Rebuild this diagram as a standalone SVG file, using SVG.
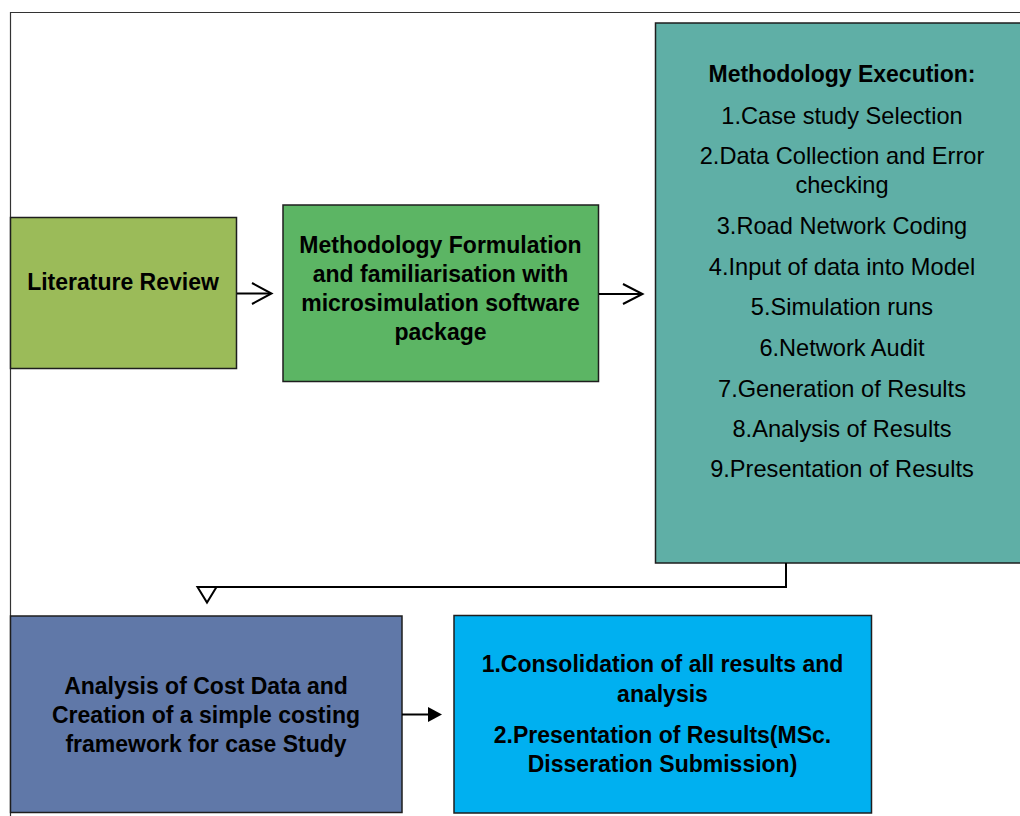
<svg xmlns="http://www.w3.org/2000/svg" width="1020" height="816" viewBox="0 0 1020 816">
<style>
.box{stroke:#1e1e1e;stroke-width:1.5}
.t{font-family:"Liberation Sans",Arial,sans-serif;font-size:23px;fill:#000;text-anchor:middle}
.b{font-weight:bold}
.r{font-size:23.6px}
.c{fill:none;stroke:#000;stroke-width:2}
</style>
<rect width="1020" height="816" fill="#fff"/>
<path d="M10.5 816 V12.5 H1020" fill="none" stroke="#333" stroke-width="1.2"/>
<g id="literature-review">
<rect class="box" x="10.5" y="217.5" width="226" height="151" fill="#9BBB59"/>
<text class="t b" x="123" y="290">Literature Review</text>
</g>
<g id="methodology-formulation">
<rect class="box" x="283" y="205" width="315.5" height="176.5" fill="#5CB564"/>
<text class="t b" x="440.5" y="253">Methodology Formulation</text>
<text class="t b" x="440.5" y="282">and familiarisation with</text>
<text class="t b" x="440.5" y="311">microsimulation software</text>
<text class="t b" x="440.5" y="339.5">package</text>
</g>
<g id="methodology-execution">
<rect class="box" x="655.5" y="23" width="380" height="540" fill="#5FAFA6"/>
<text class="t b" x="842" y="82">Methodology Execution:</text>
<text class="t r" x="842" y="124">1.Case study Selection</text>
<text class="t r" x="842" y="164">2.Data Collection and Error</text>
<text class="t r" x="842" y="193">checking</text>
<text class="t r" x="842" y="234">3.Road Network Coding</text>
<text class="t r" x="842" y="275">4.Input of data into Model</text>
<text class="t r" x="842" y="315">5.Simulation runs</text>
<text class="t r" x="842" y="356">6.Network Audit</text>
<text class="t r" x="842" y="397">7.Generation of Results</text>
<text class="t r" x="842" y="437">8.Analysis of Results</text>
<text class="t r" x="842" y="477">9.Presentation of Results</text>
</g>
<g id="cost-analysis">
<rect class="box" x="10.5" y="616" width="391.5" height="196.5" fill="#6078A8"/>
<text class="t b" x="206" y="694">Analysis of Cost Data and</text>
<text class="t b" x="206" y="723">Creation of a simple costing</text>
<text class="t b" x="206" y="752">framework for case Study</text>
</g>
<g id="consolidation">
<rect class="box" x="454" y="615.5" width="417.5" height="197.5" fill="#00B0F0"/>
<text class="t b" x="662.5" y="672">1.Consolidation of all results and</text>
<text class="t b" x="662.5" y="701.5">analysis</text>
<text class="t b" x="662.5" y="743">2.Presentation of Results(MSc.</text>
<text class="t b" x="662.5" y="771.5">Disseration Submission)</text>
</g>
<g id="connectors">
<line class="c" x1="237" y1="293.5" x2="271" y2="293.5"/>
<polyline class="c" points="252,283 271.5,293.5 252,304"/>
<line class="c" x1="599" y1="294" x2="642" y2="294"/>
<polyline class="c" points="623,284 642.5,294 623,304"/>
<polyline class="c" points="786,563 786,587 207,587"/>
<polygon points="197.5,587 216.5,587 207,602.5" fill="#fff" stroke="#000" stroke-width="2" stroke-linejoin="miter"/>
<line class="c" x1="402" y1="714.5" x2="429" y2="714.5"/>
<polygon points="428,707 442,714.5 428,722" fill="#000"/>
</g>
</svg>
